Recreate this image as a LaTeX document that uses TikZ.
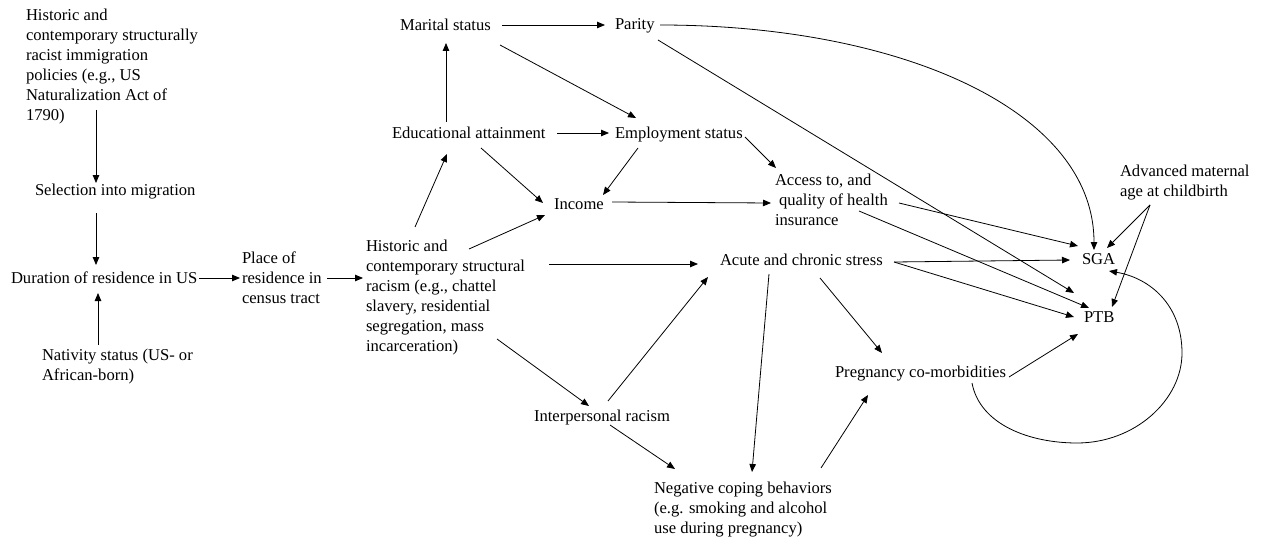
\documentclass[tikz,border=0pt]{standalone}
\usepackage{fontspec}
\setmainfont{Liberation Serif}
\newfontfamily\tnr{Liberation Serif}
\usetikzlibrary{arrows.meta}
\begin{document}
\begin{tikzpicture}[x=1pt,y=-1pt,
  lbl/.style={anchor=north west, inner sep=0pt, outer sep=0pt, align=left, font=\tnr\fontsize{16.6}{20}\selectfont},
  arr/.style={-{Triangle[length=8pt,width=6.5pt]}, line width=0.8pt},
]
\path[use as bounding box, fill=white] (0,0) rectangle (1262,543);

% nodes
\node[lbl] (immig) at (26,9) {Historic and\\contemporary structurally\\racist immigration\\policies (e.g., US\\Naturalization Act of\\1790)};
\node[lbl] (sel) at (35,184) {Selection into migration};
\node[lbl] (dur) at (11,272) {Duration of residence in US};
\node[lbl] (nat) at (42,349) {Nativity status (US- or\\African-born)};
\node[lbl] (place) at (242,252) {Place of\\residence in\\census tract};
\node[lbl] (hist) at (366,240) {Historic and\\contemporary structural\\racism (e.g., chattel\\slavery, residential\\segregation, mass\\incarceration)};
\node[lbl] (marital) at (400,19) {Marital status};
\node[lbl] (parity) at (615,19) {Parity};
\node[lbl] (edu) at (392,127) {Educational attainment};
\node[lbl] (emp) at (615,127) {Employment status};
\node[lbl] (income) at (554,199) {Income};
\node[lbl] (access) at (775,174) {Access to, and\\\hspace{4pt}quality of health\\insurance};
\node[lbl] (stress) at (720,254) {Acute and chronic stress};
\node[lbl] (sga) at (1082,254) {SGA};
\node[lbl] (ptb) at (1084,312) {PTB};
\node[lbl] (adv) at (1120,165) {Advanced maternal\\age at childbirth};
\node[lbl] (preg) at (835,366) {Pregnancy co-morbidities};
\node[lbl] (inter) at (534,410) {Interpersonal racism};
\node[lbl] (neg) at (654,482) {Negative coping behaviors\\(e.g. smoking and alcohol\\use during pregnancy)};

\coordinate (loopB) at (1077,443);
\coordinate (loopR) at (1182,353);

% connectors
\draw[arr] ([shift={(70,101)}]immig.north west) -- ([shift={(61,-1)}]sel.north west);
\draw[arr] ([shift={(61,29)}]sel.north west) -- ([shift={(85,-7)}]dur.north west);
\draw[arr] ([shift={(56,-4)}]nat.north west) -- ([shift={(87,21)}]dur.north west);
\draw[arr] ([shift={(188,6)}]dur.north west) -- ([shift={(-2,26)}]place.north west);
\draw[arr] ([shift={(85,26)}]place.north west) -- ([shift={(-3,38)}]hist.north west);
\draw[arr] ([shift={(49,-13)}]hist.north west) -- ([shift={(55,27)}]edu.north west);
\draw[arr] ([shift={(103,9)}]hist.north west) -- ([shift={(-9,16)}]income.north west);
\draw[arr] ([shift={(183,24)}]hist.north west) -- ([shift={(-22,10)}]stress.north west);
\draw[arr] ([shift={(131,99)}]hist.north west) -- ([shift={(55,-4)}]inter.north west);
\draw[arr] ([shift={(54,-5)}]edu.north west) -- ([shift={(46,24)}]marital.north west);
\draw[arr] ([shift={(165,6)}]edu.north west) -- ([shift={(-6,6)}]emp.north west);
\draw[arr] ([shift={(89,21)}]edu.north west) -- ([shift={(-11,4)}]income.north west);
\draw[arr] ([shift={(102,6)}]marital.north west) -- ([shift={(-10,6)}]parity.north west);
\draw[arr] ([shift={(100,26)}]marital.north west) -- ([shift={(21,-9)}]emp.north west);
\draw[arr] ([shift={(23,21)}]emp.north west) -- ([shift={(49,-4)}]income.north west);
\draw[arr] ([shift={(130,10)}]emp.north west) -- ([shift={(1,-6)}]access.north west);
\draw[arr] ([shift={(58,3)}]income.north west) -- ([shift={(-4,29)}]access.north west);
\draw[arr] ([shift={(45,6)}]parity.north west) .. controls +(240,0) and +(0,-140) .. ([shift={(12,-4)}]sga.north west);
\draw[arr] ([shift={(43,21)}]parity.north west) -- ([shift={(-10,-19)}]ptb.north west);
\draw[arr] ([shift={(124,29)}]access.north west) -- ([shift={(-4,-8)}]sga.north west);
\draw[arr] ([shift={(84,37)}]access.north west) -- ([shift={(5,-4)}]ptb.north west);
\draw[arr] ([shift={(174,8)}]stress.north west) -- ([shift={(-12,6)}]sga.north west);
\draw[arr] ([shift={(174,8)}]stress.north west) -- ([shift={(-10,5)}]ptb.north west);
\draw[arr] ([shift={(100,24)}]stress.north west) -- ([shift={(47,-13)}]preg.north west);
\draw[arr] ([shift={(49,20)}]stress.north west) -- ([shift={(98,-10)}]neg.north west);
\draw[arr] ([shift={(74,-9)}]inter.north west) -- ([shift={(-12,23)}]stress.north west);
\draw[arr] ([shift={(76,15)}]inter.north west) -- ([shift={(21,-13)}]neg.north west);
\draw[arr] ([shift={(167,-14)}]neg.north west) -- ([shift={(33,29)}]preg.north west);
\draw[arr] ([shift={(174,11)}]preg.north west) -- ([shift={(-6,22)}]ptb.north west);
\draw[arr] ([shift={(30,40)}]adv.north west) -- ([shift={(25,-6)}]sga.north west);
\draw[arr] ([shift={(30,40)}]adv.north west) -- ([shift={(28,-5)}]ptb.north west);
\draw[arr] ([shift={(137,17)}]preg.north west) .. controls +(8,42) and +(-47,0) .. (loopB) .. controls +(58,0) and +(0,47) .. (loopR) .. controls +(0,-48) and +(41,7) .. ([shift={(27,17)}]sga.north west);
\end{tikzpicture}
\end{document}
